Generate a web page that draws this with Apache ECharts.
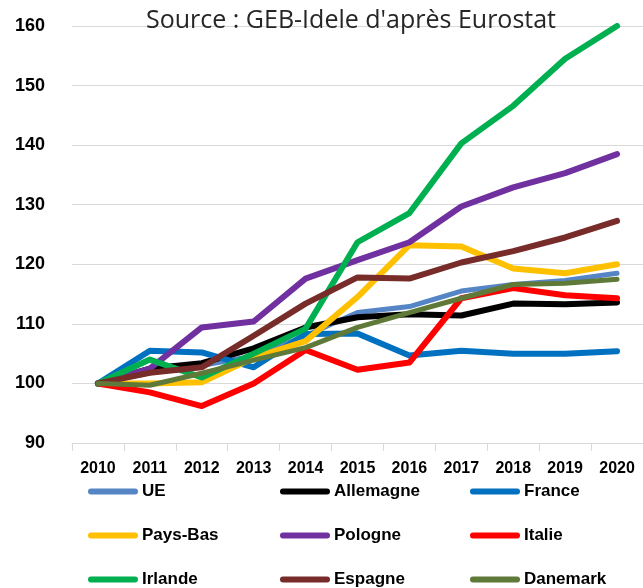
<!DOCTYPE html>
<html>
<head>
<meta charset="utf-8">
<script src="https://cdn.jsdelivr.net/npm/echarts@6/dist/echarts.min.js"></script>
<style>
  html, body { margin: 0; padding: 0; background: #fff; }
  #chart { width: 643px; height: 588px; }
</style>
</head>
<body>
<div id="chart"></div>
<script>
const years = ['2010', '2011', '2012', '2013', '2014', '2015', '2016', '2017', '2018', '2019', '2020']

const ue = [100, 101.8, 103, 104.6, 108, 111.9, 112.9, 115.5, 116.6, 117.3, 118.5]
const allemagne = [100, 102.5, 103.4, 105.9, 109.4, 111.1, 111.6, 111.4, 113.4, 113.3, 113.6]
const france = [100, 105.5, 105.2, 102.7, 108.3, 108.4, 104.7, 105.5, 105, 105, 105.4]
const paysBas = [100, 100, 100.2, 104.3, 107.1, 114.5, 123.2, 123, 119.3, 118.5, 120]
const pologne = [100, 102.5, 109.4, 110.4, 117.6, 120.7, 123.7, 129.7, 132.9, 135.3, 138.5]
const italie = [100, 98.5, 96.2, 100, 105.6, 102.3, 103.5, 114.3, 116, 114.8, 114.3]
const irlande = [100, 104, 101, 105, 109.2, 123.7, 128.6, 140.3, 146.6, 154.5, 160]
const espagne = [100, 101.8, 102.7, 108, 113.4, 117.8, 117.6, 120.3, 122.2, 124.5, 127.3]
const danemark = [100, 99.7, 101.7, 103.9, 106, 109.4, 111.9, 114.3, 116.6, 116.8, 117.5]

const yTicks = [90, 100, 110, 120, 130, 140, 150, 160]

let myChart = echarts.init(document.getElementById('chart'))

function line (name, data, color, width) {
  return {
    name: name,
    type: 'line',
    data: data,
    symbol: 'none',
    color: color,
    lineStyle: { width: width, color: color, cap: 'round', join: 'round' },
    itemStyle: { color: color }
  }
}

// icone de légende : trait épais aux bouts arrondis
const legendIcon = 'path://M3,0 L47,0 A3,3 0 0 1 47,6 L3,6 A3,3 0 0 1 3,0 Z'

function legendCol (left, names) {
  return {
    left: left,
    top: 481,
    height: 110,
    padding: 0,
    orient: 'vertical',
    data: names,
    icon: legendIcon,
    itemWidth: 50,
    itemHeight: 6,
    itemGap: 23,
    selectedMode: false,
    textStyle: {
      fontFamily: 'Liberation Sans',
      fontWeight: 'bold',
      fontSize: 17,
      color: '#000',
      lineHeight: 21,
      padding: [0, 0, 0, -1]
    }
  }
}

myChart.setOption({
  animation: false,
  title: {
    text: "Source : GEB-Idele d'après Eurostat",
    left: 346,
    top: 3,
    textAlign: 'center',
    textStyle: {
      fontFamily: 'Open Sans',
      fontWeight: 'normal',
      fontSize: 25,
      color: '#262626'
    }
  },
  grid: {
    left: 72,
    right: 0,
    top: 26,
    bottom: 145
  },
  legend: [
    legendCol(88, ['UE', 'Pays-Bas', 'Irlande']),
    legendCol(280, ['Allemagne', 'Pologne', 'Espagne']),
    legendCol(470, ['France', 'Italie', 'Danemark'])
  ],
  xAxis: {
    type: 'category',
    data: years,
    boundaryGap: true,
    axisLine: { show: true, lineStyle: { color: '#d9d9d9', width: 1 } },
    axisTick: { show: true, length: 8, lineStyle: { color: '#d9d9d9' } },
    axisLabel: {
      interval: 0,
      margin: 18,
      fontFamily: 'Liberation Sans',
      fontWeight: 'bold',
      fontSize: 16,
      color: '#000'
    },
    splitLine: { show: false }
  },
  yAxis: {
    type: 'value',
    min: yTicks[0],
    max: yTicks[yTicks.length - 1],
    interval: 10,
    axisLine: { show: false },
    axisTick: { show: false },
    axisLabel: {
      margin: 27,
      fontFamily: 'Liberation Sans',
      fontWeight: 'bold',
      fontSize: 18,
      color: '#000'
    },
    splitLine: { show: true, lineStyle: { color: '#d9d9d9', width: 1 } }
  },
  series: [
    line('UE', ue, '#5585c5', 5),
    line('Allemagne', allemagne, '#000000', 6),
    line('France', france, '#0070c0', 6),
    line('Pays-Bas', paysBas, '#ffc000', 6),
    line('Pologne', pologne, '#7030a0', 6),
    line('Italie', italie, '#ff0000', 6),
    line('Irlande', irlande, '#00b050', 6),
    line('Espagne', espagne, '#772c2a', 6),
    line('Danemark', danemark, '#5f7a38', 5)
  ]
})
</script>
</body>
</html>
